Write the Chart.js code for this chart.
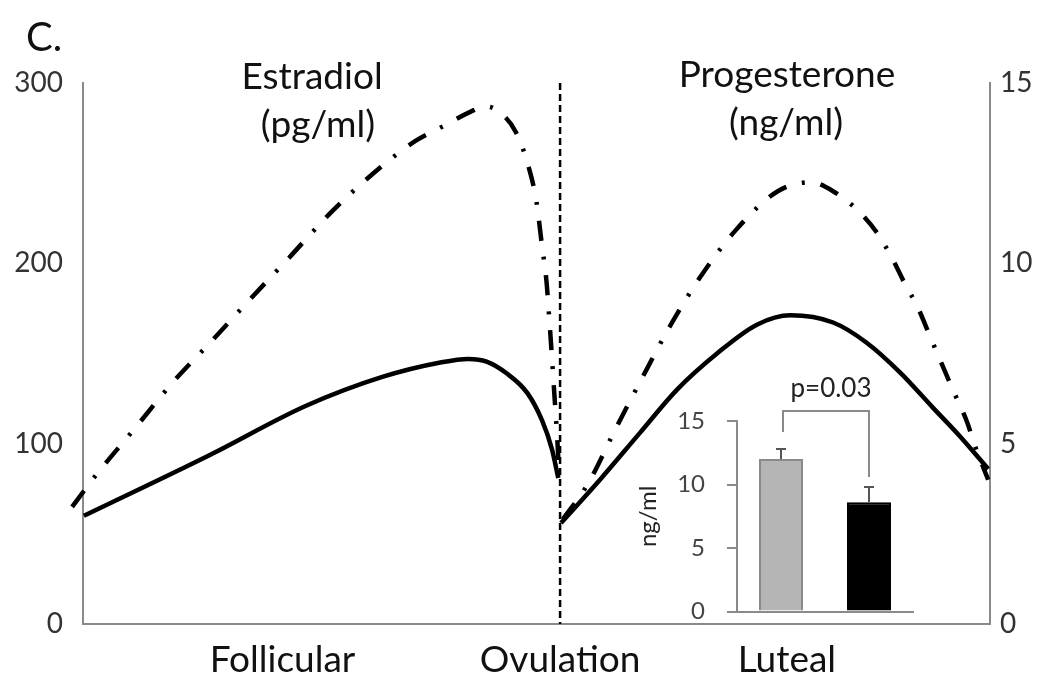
<!DOCTYPE html>
<html>
<head>
<meta charset="utf-8">
<script src="https://cdn.jsdelivr.net/npm/chart.js@4"></script>
<style>
  html, body { margin: 0; padding: 0; background: #fff; }
  #wrap { position: relative; width: 1050px; height: 681px; }
  #main { position: absolute; left: 0; top: 0; }
  #inset { position: absolute; left: 630px; top: 370px; }
</style>
</head>
<body>
<div id="wrap">
  <canvas id="main" width="1050" height="681"></canvas>
  <canvas id="inset" width="300" height="278"></canvas>
</div>
<script>
// phases along the cycle (x runs 0..100, ovulation in between)
var phaseLabels = ['Follicular', 'Ovulation', 'Luteal'];
var phaseAt = [22.0, 52.6, 77.6];
var ovulationAt = 52.6;

// estradiol, pg/ml (left axis)
var e2SolidX = [0.1, 14.1, 24.6, 33.0, 39.4, 42.5, 44.5, 46.7, 49.0, 50.6, 51.7, 52.4];
var e2SolidY = [60, 94, 121, 137, 145, 147, 145.5, 139, 128, 113, 97, 81];
var e2DashX = [-1.2, 1.5, 5.8, 9.9, 14.2, 18.4, 22.7, 27.1, 31.8, 36.7, 39.7, 42.7, 44.3, 45.6, 47.7, 49.1, 50.0, 50.6, 51.1, 51.4, 51.7, 52.0, 52.3, 52.5];
var e2DashY = [65, 83, 109, 134, 157, 180, 203, 227, 249, 268, 276, 284, 287, 285, 273, 254, 234, 210, 190, 170, 148, 125, 102, 82];

// progesterone, ng/ml (right axis)
var p4SolidX = [52.7, 57.0, 61.4, 65.5, 69.9, 74.3, 78.0, 82.7, 86.4, 90.1, 93.7, 96.7, 99.8];
var p4SolidY = [2.8, 4.0, 5.3, 6.5, 7.5, 8.3, 8.56, 8.36, 7.8, 6.97, 6.0, 5.2, 4.3];
var p4DashX = [52.9, 55.7, 58.7, 61.6, 64.7, 68.0, 71.9, 76.6, 80.2, 82.7, 85.7, 87.5, 89.3, 90.6, 92.0, 93.4, 94.8, 95.9, 97.5, 98.3, 99.8];
var p4DashY = [2.9, 3.9, 5.4, 6.8, 8.25, 9.6, 10.9, 12.0, 12.25, 12.0, 11.4, 10.86, 10.1, 9.44, 8.8, 7.97, 7.14, 6.5, 5.58, 4.97, 4.0];

// inset: luteal progesterone
var insetGroups = ['', ''];
var insetMeans = [12.0, 8.6];
var insetErrors = [0.8, 1.2];
var pValue = 'p=0.03';

Chart.defaults.font.family = 'Lato';
Chart.defaults.color = '#222';

function pts(xs, ys) {
    return xs.map(function (x, i) { return {x: x, y: ys[i]}; });
}

var dashDot = [20, 16, 3, 16];

var mainDecor = {
    id: 'mainDecor',
    beforeDatasetsDraw: function (chart) {
        var ctx = chart.ctx, a = chart.chartArea;
        var x = chart.scales.x.getPixelForValue(ovulationAt);
        ctx.save();
        ctx.strokeStyle = '#000';
        ctx.lineWidth = 2.5;
        ctx.setLineDash([7, 4]);
        ctx.beginPath();
        ctx.moveTo(x, a.top);
        ctx.lineTo(x, a.bottom);
        ctx.stroke();
        ctx.restore();
    },
    afterDraw: function (chart) {
        var ctx = chart.ctx;
        ctx.save();
        ctx.fillStyle = '#111';
        ctx.textBaseline = 'middle';
        ctx.font = '40px Lato';
        ctx.textAlign = 'left';
        ctx.fillText('C.', 26, 38);
        ctx.font = '37px Lato';
        ctx.textAlign = 'center';
        ctx.fillText('Estradiol', 312, 77);
        ctx.fillText('(pg/ml)', 318, 125);
        ctx.fillText('Progesterone', 787, 75);
        ctx.fillText('(ng/ml)', 786, 123);
        ctx.restore();
    }
};

new Chart(document.getElementById('main'), {
    type: 'line',
    data: {
        datasets: [
            {
                data: pts(e2SolidX, e2SolidY),
                yAxisID: 'y',
                borderColor: '#000',
                borderWidth: 4.5,
                pointRadius: 0,
                cubicInterpolationMode: 'monotone'
            },
            {
                data: pts(e2DashX, e2DashY),
                yAxisID: 'y',
                borderColor: '#000',
                borderWidth: 4.5,
                borderDash: dashDot,
                pointRadius: 0,
                cubicInterpolationMode: 'monotone',
                clip: false
            },
            {
                data: pts(p4SolidX, p4SolidY),
                yAxisID: 'y1',
                borderColor: '#000',
                borderWidth: 4.5,
                pointRadius: 0,
                cubicInterpolationMode: 'monotone'
            },
            {
                data: pts(p4DashX, p4DashY),
                yAxisID: 'y1',
                borderColor: '#000',
                borderWidth: 4.5,
                borderDash: dashDot,
                pointRadius: 0,
                cubicInterpolationMode: 'monotone',
                clip: false
            }
        ]
    },
    options: {
        responsive: false,
        animation: false,
        layout: {padding: {top: 83, left: 0, right: 0, bottom: 0}},
        plugins: {legend: {display: false}, tooltip: {enabled: false}},
        scales: {
            x: {
                type: 'linear',
                min: 0,
                max: 100,
                afterBuildTicks: function (scale) {
                    scale.ticks = phaseAt.map(function (v) { return {value: v}; });
                },
                afterFit: function (scale) { scale.height = 57; },
                ticks: {
                    autoSkip: false,
                    maxRotation: 0,
                    padding: 14,
                    color: '#111',
                    font: {size: 37},
                    callback: function (v, i) { return phaseLabels[i]; }
                },
                grid: {display: true, drawOnChartArea: false, drawTicks: false},
                border: {color: '#8a8a8a', width: 2}
            },
            y: {
                position: 'left',
                min: 0,
                max: 300,
                afterFit: function (scale) { scale.width = 83; },
                ticks: {stepSize: 100, padding: 20, color: '#333', font: {size: 28}},
                grid: {display: true, drawOnChartArea: false, drawTicks: false},
                border: {color: '#8a8a8a', width: 2}
            },
            y1: {
                position: 'right',
                min: 0,
                max: 15,
                afterFit: function (scale) { scale.width = 60; },
                ticks: {stepSize: 5, padding: 10, color: '#333', font: {size: 28}},
                grid: {display: true, drawOnChartArea: false, drawTicks: false},
                border: {color: '#8a8a8a', width: 2}
            }
        }
    },
    plugins: [mainDecor]
});

var insetDecor = {
    id: 'insetDecor',
    afterDatasetsDraw: function (chart) {
        var ctx = chart.ctx;
        var meta = chart.getDatasetMeta(0);
        var ys = chart.scales.y;
        ctx.save();
        ctx.strokeStyle = '#555';
        ctx.lineWidth = 2;
        var tops = [];
        meta.data.forEach(function (bar, i) {
            var yTop = ys.getPixelForValue(insetMeans[i] + insetErrors[i]);
            var yMean = ys.getPixelForValue(insetMeans[i]);
            tops.push(yTop);
            ctx.beginPath();
            ctx.moveTo(bar.x, yMean);
            ctx.lineTo(bar.x, yTop);
            ctx.moveTo(bar.x - 5, yTop);
            ctx.lineTo(bar.x + 5, yTop);
            ctx.stroke();
        });
        // significance bracket
        var b0 = meta.data[0], b1 = meta.data[1];
        var yBracket = ys.getPixelForValue(15) - 10;
        ctx.strokeStyle = '#8a8a8a';
        ctx.beginPath();
        ctx.moveTo(b0.x + 2, tops[0] - 17);
        ctx.lineTo(b0.x + 2, yBracket);
        ctx.lineTo(b1.x, yBracket);
        ctx.lineTo(b1.x, tops[1] - 10);
        ctx.stroke();
        ctx.fillStyle = '#222';
        ctx.font = '26px Lato';
        ctx.textAlign = 'center';
        ctx.textBaseline = 'middle';
        ctx.fillText(pValue, (b0.x + b1.x) / 2 + 6, yBracket - 22);
        ctx.restore();
    }
};

new Chart(document.getElementById('inset'), {
    type: 'bar',
    data: {
        labels: insetGroups,
        datasets: [{
            data: insetMeans,
            backgroundColor: ['#b5b5b5', '#000'],
            borderColor: ['#8a8a8a', '#000'],
            borderWidth: 2,
            barPercentage: 0.5,
            categoryPercentage: 1.0
        }]
    },
    options: {
        responsive: false,
        animation: false,
        layout: {padding: {top: 51, right: 17, bottom: 1, left: 0}},
        plugins: {legend: {display: false}, tooltip: {enabled: false}},
        scales: {
            x: {
                ticks: {display: false},
                afterFit: function (scale) { scale.height = 0; },
                grid: {display: true, drawOnChartArea: false, drawTicks: false},
                border: {color: '#8a8a8a', width: 2}
            },
            y: {
                min: 0,
                max: 15,
                afterFit: function (scale) { scale.width = 107; },
                ticks: {stepSize: 5, padding: 22, color: '#444', font: {size: 24}},
                grid: {display: true, drawOnChartArea: false, drawTicks: true, tickLength: 10, color: '#8a8a8a', lineWidth: 2},
                border: {color: '#8a8a8a', width: 2},
                title: {display: true, text: 'ng/ml', color: '#222', font: {size: 24}, padding: {top: 4, bottom: 0}}
            }
        }
    },
    plugins: [insetDecor]
});
</script>
</body>
</html>
